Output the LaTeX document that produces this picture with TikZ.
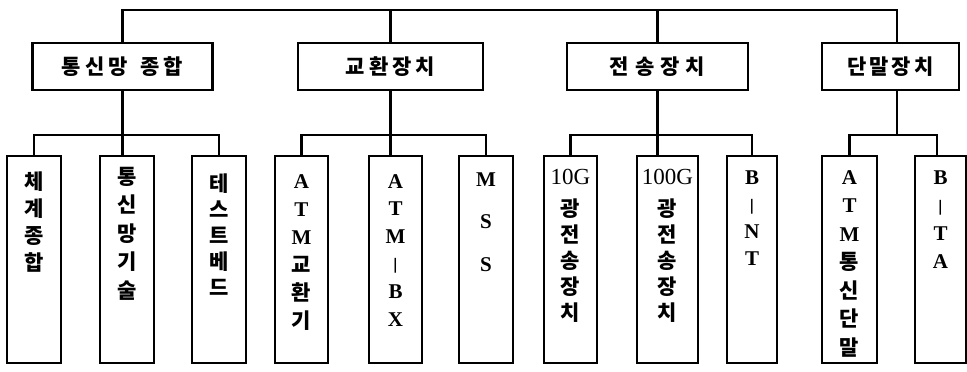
\documentclass[tikz,border=0pt]{standalone}
\usepackage{fontspec}
\setmainfont{Liberation Serif}
\newfontfamily\kr{Noto Sans CJK KR}
\newcommand{\K}[1]{{\kr\bfseries\fontsize{21}{21}\selectfont #1}}
\newcommand{\T}[1]{{\kr\bfseries\fontsize{21}{21}\selectfont #1}}
\newcommand{\VB}{{\kr\fontsize{13}{13}\selectfont\raisebox{1pt}{|}}}
\newcommand{\G}[1]{{\mdseries\fontsize{23}{23}\selectfont #1}}
% #1 width, #2 first baseline offset, #3 line spacing, #4 lines
\newcommand{\leafbox}[4]{\parbox[c][207pt][t]{#1}{\centering\bfseries\fontsize{21}{#3}\selectfont\lineskiplimit=-100pt\lineskip=0pt\rule{0pt}{#2}#4}}
\begin{document}
\begin{tikzpicture}[x=1pt,y=-1pt,
  conn/.style={line width=2.2pt},
  topbox/.style={draw,line width=2.2pt,minimum height=47pt,inner sep=0pt},
  leaf/.style={draw,line width=2.2pt,inner sep=0pt,anchor=north}]
\useasboundingbox[fill=white] (0,0) rectangle (967,372);
\coordinate (ty) at (0,10);
\coordinate (hy) at (0,135);
% top level boxes
\node[topbox,minimum width=180pt] (b1) at (122.5,66.5) {\T{통\kern4pt 신\kern4pt 망\kern13pt 종\kern4pt 합}};
\node[topbox,minimum width=185pt] (b2) at (390.5,66.5) {\T{교\kern4pt 환\kern4pt 장\kern4pt 치}};
\node[topbox,minimum width=181pt] (b3) at (657.5,66.5) {\T{전\kern6pt 송\kern6pt 장\kern6pt 치}};
\node[topbox,minimum width=137pt] (b4) at (890.5,66.5) {\T{단\kern3pt 말\kern3pt 장\kern3pt 치}};
% leaves
\node[leaf] (l1) at (34,155) {\leafbox{54pt}{33pt}{27pt}{\K{체}\\\K{계}\\\K{종}\\\K{합}}};
\node[leaf] (l2) at (127,155) {\leafbox{54pt}{28pt}{28.5pt}{\K{통}\\\K{신}\\\K{망}\\\K{기}\\\K{술}}};
\node[leaf] (l3) at (219,155) {\leafbox{54pt}{35pt}{26pt}{\K{테}\\\K{스}\\\K{트}\\\K{베}\\\K{드}}};
\node[leaf] (l4) at (301.5,155) {\leafbox{53pt}{32pt}{28pt}{A\\T\\M\\\K{교}\\\K{환}\\\K{기}}};
\node[leaf] (l5) at (395.5,155) {\leafbox{53pt}{32pt}{27.6pt}{A\\T\\M\\\VB\\B\\X}};
\node[leaf] (l6) at (486,155) {\leafbox{54pt}{30pt}{42.5pt}{M\\S\\S}};
\node[leaf] (l7) at (570.5,155) {\leafbox{53pt}{28pt}{26pt}{\G{10G}\\[6pt]\K{광}\\\K{전}\\\K{송}\\\K{장}\\\K{치}}};
\node[leaf] (l8) at (667.5,155) {\leafbox{61pt}{28pt}{26pt}{\G{100G}\\[6pt]\K{광}\\\K{전}\\\K{송}\\\K{장}\\\K{치}}};
\node[leaf] (l9) at (752,155) {\leafbox{50pt}{28pt}{27pt}{B\\\VB\\N\\T}};
\node[leaf] (l10) at (849.5,155) {\leafbox{55pt}{28pt}{28.5pt}{A\\T\\M\\\K{통}\\\K{신}\\\K{단}\\\K{말}}};
\node[leaf] (l11) at (940.5,155) {\leafbox{51pt}{28pt}{28pt}{B\\\VB\\T\\A}};
% top connectors
\draw[conn] (b1.north) -- (b1.north |- ty) -- ([xshift=6.5pt]b4.north |- ty) -- ([xshift=6.5pt]b4.north);
\draw[conn] (b2.north) -- (b2.north |- ty);
\draw[conn] (b3.north) -- (b3.north |- ty);
% children connectors
\draw[conn] (b1.south) -- (b1.south |- l2.north);
\draw[conn] (l1.north) -- (l1.north |- hy) -- (l3.north |- hy) -- (l3.north);
\draw[conn] (b2.south) -- (b2.south |- l5.north);
\draw[conn] (l4.north) -- (l4.north |- hy) -- (l6.north |- hy) -- (l6.north);
\draw[conn] (b3.south) -- (b3.south |- l8.north);
\draw[conn] (l7.north) -- (l7.north |- hy) -- (l9.north |- hy) -- (l9.north);
\draw[conn] ([xshift=6.5pt]b4.south) -- ([xshift=6.5pt]b4.south |- hy);
\draw[conn] (l10.north) -- (l10.north |- hy) -- ([xshift=-3.5pt]l11.north |- hy) -- ([xshift=-3.5pt]l11.north);
\end{tikzpicture}
\end{document}
